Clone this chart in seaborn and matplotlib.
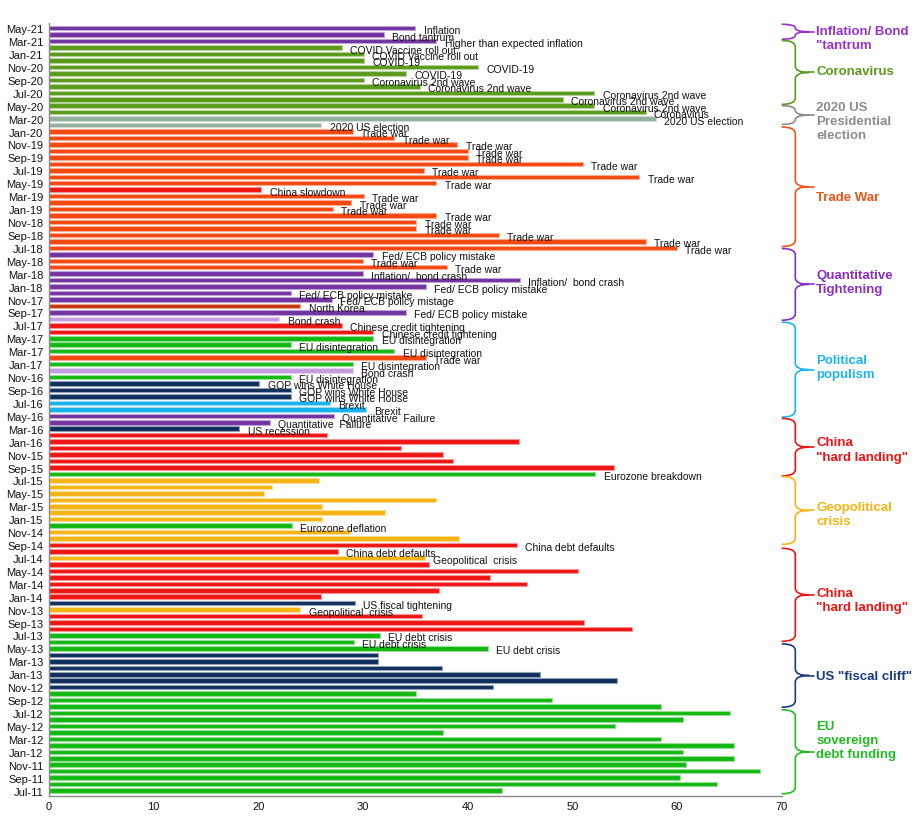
import matplotlib
matplotlib.use("Agg")
import matplotlib.pyplot as plt
from matplotlib.path import Path
from matplotlib.patches import PathPatch
import matplotlib.colors as mcolors
import seaborn as sns
import pandas as pd

# months, newest first (May-21 at the top, Jul-11 at the bottom)
months = [d.strftime('%b-%y') for d in pd.date_range('2011-07-01', '2021-05-01', freq='MS')][::-1]

values = [35.0, 32.0, 37.0, 28.0, 30.1, 30.1, 41.0, 34.1, 30.1, 35.4, 52.1, 49.1, 52.1, 57.0, 58.0, 26.0,
          29.0, 33.0, 39.0, 40.0, 40.0, 51.0, 35.8, 56.4, 37.0, 20.3, 30.1, 28.9, 27.1, 37.0, 35.1, 35.1, 43.0, 57.0, 60.0,
          31.0, 30.0, 38.0, 30.0, 45.0, 36.0, 23.1, 27.0, 24.0, 34.1, 22.0, 28.0, 31.0, 31.0, 23.1, 33.0, 36.0, 29.0, 29.0,
          23.1, 20.1, 23.1, 23.1, 26.8, 30.3, 27.2, 21.1, 18.2,
          26.6, 44.9, 33.6, 37.6, 38.6, 54.0, 52.2, 25.8, 21.3, 20.5, 37.0, 26.1, 32.1, 26.1, 23.2, 28.8, 39.2,
          44.7, 27.6, 35.9, 36.3, 50.5, 42.1, 45.7, 37.3, 26.0, 29.2, 24.0, 35.6, 51.1, 55.7, 31.6, 29.1, 41.9,
          31.4, 31.4, 37.5, 46.9, 54.3, 42.4, 35.1, 48.1, 58.5, 65.1, 60.6, 54.1, 37.6, 58.5, 65.4, 60.6, 65.4,
          60.9, 67.9, 60.3, 63.8, 43.3]

# risk category of each bar
risk = (['P'] * 3 + ['CG'] * 11 + ['GR'] * 2 + ['TW'] * 9 + ['R'] + ['TW'] * 9 +
        ['P', 'TW', 'TW', 'P', 'P', 'P', 'P', 'P', 'NK', 'P', 'LV', 'R', 'R', 'G', 'G', 'G', 'TW', 'G', 'LV', 'G',
         'NV', 'NV', 'NV', 'LB', 'LB', 'P', 'P', 'NV'] +
        ['R'] * 6 + ['G'] + ['AM'] * 7 + ['G', 'AM', 'AM', 'R', 'R', 'AM'] + ['R'] * 6 +
        ['NV', 'AM', 'R', 'R', 'R', 'G', 'G', 'G'] + ['NV'] * 6 + ['G'] * 16)

labels = (['Inflation', 'Bond tantrum', 'Higher than expected inflation',
           'COVID Vaccine roll out', 'COVID Vaccine roll out', 'COVID-19', 'COVID-19', 'COVID-19'] +
          ['Coronavirus 2nd wave'] * 5 + ['Coronavirus', '2020 US election', '2020 US election'] +
          ['Trade war'] * 9 + ['China slowdown'] + ['Trade war'] * 9 +
          ['Fed/ ECB policy mistake', 'Trade war', 'Trade war', 'Inflation/  bond crash', 'Inflation/  bond crash',
           'Fed/ ECB policy mistake', 'Fed/ ECB policy mistake', 'Fed/ ECB policy mistage', 'North Korea',
           'Fed/ ECB policy mistake', 'Bond crash', 'Chinese credit tightening', 'Chinese credit tightening',
           'EU disintegration', 'EU disintegration', 'EU disintegration', 'Trade war', 'EU disintegration',
           'Bond crash', 'EU disintegration', 'GOP wins White House', 'GOP wins White House', 'GOP wins White House',
           'Brexit', 'Brexit', 'Quantitative  Failure', 'Quantitative  Failure', 'US recession'] +
          [''] * 6 + ['Eurozone breakdown'] + [''] * 7 + ['Eurozone deflation', '', '',
           'China debt defaults', 'China debt defaults', 'Geopolitical  crisis'] + [''] * 6 +
          ['US fiscal tightening', 'Geopolitical  crisis', '', '', '', 'EU debt crisis', 'EU debt crisis',
           'EU debt crisis'] + [''] * 22)

risk_colors = {'P': '#7232a0', 'CG': '#5a9a1a', 'GR': '#93b09c', 'TW': '#f4470e', 'R': '#ee1414',
               'NK': '#c8360c', 'LV': '#c49de0', 'G': '#12b812', 'NV': '#0f2e5e', 'LB': '#14b2ee',
               'AM': '#f5b413'}

# bracket groups on the right: (first bar, last bar, text, colour, text position)
groups = [(-0.6, 1.7, 'Inflation/ Bond\n"tantrum', '#9a30d0', 1.5),
          (1.9, 11.8, 'Coronavirus', '#5a9a1a', 6.7),
          (12.0, 14.9, '2020 US\nPresidential\nelection', '#8c8c8c', 14.4),
          (15.3, 33.8, 'Trade War', '#f0551a', 26.2),
          (34.1, 45.2, 'Quantitative\nTightening', '#8a2ec8', 39.3),
          (45.5, 60.2, 'Political\npopulism', '#1ab4f0', 52.5),
          (60.4, 69.3, 'China\n"hard landing"', '#ee1414', 65.2),
          (69.4, 79.9, 'Geopolitical\ncrisis', '#f5b413', 75.2),
          (80.5, 94.9, 'China\n"hard landing"', '#ee1414', 88.5),
          (95.3, 105.1, 'US "fiscal cliff"', '#1a3a80', 100.2),
          (105.5, 118.5, 'EU\nsovereign\ndebt funding', '#22bb22', 110.2)]

df = pd.DataFrame({'month': months, 'value': values, 'risk': risk, 'label': labels})
palette = {m: risk_colors[r] for m, r in zip(months, risk)}

sns.set_theme(style='white')
plt.rcParams['font.family'] = ['Liberation Sans Narrow', 'Liberation Sans', 'DejaVu Sans']

fig = plt.figure(figsize=(9.24, 8.28), dpi=100)
ax = fig.add_axes([0.053, 0.037, 0.793, 0.934])

sns.barplot(data=df, x='value', y='month', hue='month', palette=palette, legend=False,
            orient='h', width=0.7, saturation=1, ax=ax)

# soft lighter rim round each bar
for p in ax.patches:
    fc = mcolors.to_rgb(p.get_facecolor())
    p.set_edgecolor(tuple(0.45 * c + 0.55 for c in fc))
    p.set_linewidth(0.8)

# labels at the end of the bars
for i, row in df.iterrows():
    if row['label']:
        ax.text(row['value'] + 0.8, i + 0.3, row['label'], fontsize=7.5, va='center', ha='left',
                color='#111111', clip_on=False)

ax.set_xlim(0, 70)
ax.set_ylim(118.9, -0.8)
ax.set_xticks(range(0, 71, 10))
ax.set_yticks(range(0, len(months), 2))
ax.set_yticklabels(months[::2])
ax.tick_params(axis='both', length=0, labelsize=8, colors='#111111')
ax.tick_params(axis='y', pad=4)
ax.set_xlabel('')
ax.set_ylabel('')
for s in ['top', 'right']:
    ax.spines[s].set_visible(False)
for s in ['left', 'bottom']:
    ax.spines[s].set_color('#8a8a8a')
    ax.spines[s].set_linewidth(1)


def brace(y0, y1, color):
    xe, xs, xt = 70.0, 71.3, 72.6
    ym = (y0 + y1) / 2
    r = min(1.0, (y1 - y0) / 4)
    verts = [(xe, y0), (xs, y0), (xs, y0 + r), (xs, ym - r), (xs, ym), (xt, ym),
             (xs, ym), (xs, ym + r), (xs, y1 - r), (xs, y1), (xe, y1)]
    codes = [Path.MOVETO, Path.CURVE3, Path.CURVE3, Path.LINETO, Path.CURVE3, Path.CURVE3,
             Path.CURVE3, Path.CURVE3, Path.LINETO, Path.CURVE3, Path.CURVE3]
    ax.add_patch(PathPatch(Path(verts, codes), fill=False, edgecolor=color, lw=1.2, clip_on=False))
    ax.plot([xt, xt + 0.5], [ym, ym], color=color, lw=1.2, clip_on=False)


for y0, y1, txt, col, ty in groups:
    brace(y0, y1, col)
    ax.text(73.3, ty, txt, color=col, fontsize=9.5, fontweight='bold', va='center', ha='left',
            family=['Liberation Sans', 'DejaVu Sans'], linespacing=1.25, clip_on=False)

fig.savefig('out.png', dpi=100)
